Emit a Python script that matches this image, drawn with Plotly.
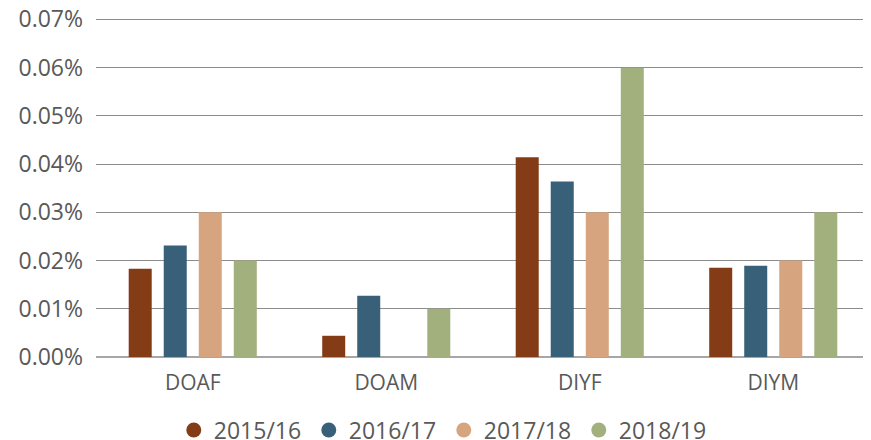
import plotly.graph_objects as go

categories = ["DOAF", "DOAM", "DIYF", "DIYM"]
series_names = ["2015/16", "2016/17", "2017/18", "2018/19"]
v2015 = [0.000183, 0.000044, 0.000414, 0.000185]
v2016 = [0.000231, 0.000127, 0.000364, 0.000189]
v2017 = [0.000300, 0.0, 0.000300, 0.000200]
v2018 = [0.000200, 0.000100, 0.000600, 0.000300]
colors = ["#843C17", "#386079", "#D6A47F", "#A2B07E"]

fig = go.Figure()
for name, vals, col in zip(series_names, [v2015, v2016, v2017, v2018], colors):
    fig.add_trace(go.Bar(x=categories, y=vals, name=name, marker_color=col,
                         marker_line_width=0, showlegend=False))
for name, col in zip(series_names, colors):
    fig.add_trace(go.Scatter(x=[None], y=[None], mode="markers", name=name,
                             marker=dict(symbol="circle", size=15, color=col)))

font = dict(family="Open Sans, sans-serif", size=23, color="#595959")
xfont = dict(family="Open Sans, sans-serif", size=21, color="#595959")
# page body has an 8px margin, so the figure is sized to the visible area
fig.update_layout(
    width=863, height=432,
    margin=dict(l=88, r=1, t=9, b=83, autoexpand=False),
    plot_bgcolor="white", paper_bgcolor="white",
    barmode="group", bargap=0.276, bargroupgap=0.343,
    font=font,
    legend=dict(orientation="h", x=0.1005, xanchor="left", y=-0.215, yanchor="middle",
                font=font, itemwidth=30, tracegroupgap=0,
                entrywidth=90, entrywidthmode="pixels"),
    xaxis=dict(showline=False, ticks="", tickfont=xfont, showgrid=False, automargin=False,
               ticklabelstandoff=11),
    yaxis=dict(range=[0, 0.000705], dtick=0.0001, tickformat=".2%", showgrid=True,
               gridcolor="#8C8C8C", gridwidth=1, zeroline=True, zerolinecolor="#A6A6A6",
               zerolinewidth=2, showline=False, ticks="", tickfont=font,
               ticklabelstandoff=12, automargin=False, ticklabeloverflow="allow"),
)
fig.write_html("out.html")
